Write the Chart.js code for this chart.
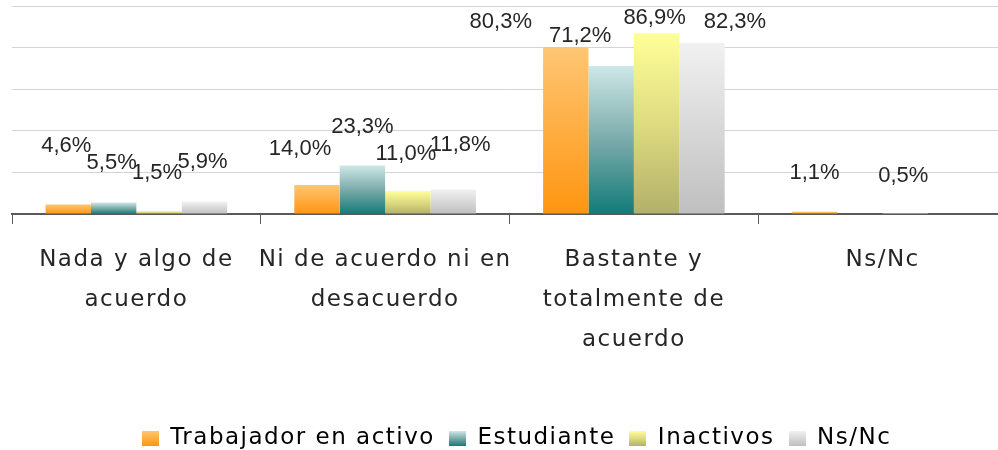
<!DOCTYPE html>
<html><head><meta charset="utf-8">
<script src="https://cdn.jsdelivr.net/npm/chart.js@4.4.1/dist/chart.umd.min.js"></script>
<style>
html,body{margin:0;padding:0;background:#fff;overflow:hidden;width:998px;height:450px}
#wrap{width:1010px;height:450px}
</style></head>
<body><div id="wrap"><canvas id="c" width="1010" height="450"></canvas></div>
<script>
// ---- data ----
const categories = [['Nada y algo de','acuerdo'],['Ni de acuerdo ni en','desacuerdo'],['Bastante y','totalmente de','acuerdo'],['Ns/Nc']];
const seriesNames = ['Trabajador en activo','Estudiante','Inactivos','Ns/Nc'];
const trabajador = [4.6, 14.0, 80.3, 1.1];
const estudiante = [5.5, 23.3, 71.2, 0];
const inactivos  = [1.5, 11.0, 86.9, 0.5];
const nsnc       = [5.9, 11.8, 82.3, 0];
const yMin = 0, yMax = 100, yStep = 20;

// ---- styles ----
const gradients = [
  ['#fec674', '#ff9510'],
  ['#cfe7e7', '#7aabaa', '#127b78'],
  ['#ffff99', '#dedb80', '#b2b06b'],
  ['#f1f1f1', '#bfbfbf']
];
// manual label nudges (px) per series, per category, as placed in the original
const labelNudgeX = [[-2,-17,-65,0],[-2,0,-31,0],[-2,-2,-2,-2],[-2,7,33,0]];
const labelNudgeY = [[-20,2,13,-1],[-2,-1,8,0],[0,1,23,1],[-2,-7,17,0]];
const FONT = '"DejaVu Sans", sans-serif';
const LABEL_FONT = '22px "Liberation Sans", Arial, sans-serif';

function addStops(g, stops){ stops.forEach((c,i)=>g.addColorStop(i/(stops.length-1), c)); return g; }
function barGradient(stops){
  return function(ctx){
    const chart = ctx.chart, ys = chart.scales.y;
    if (!ys || ctx.type !== 'data') return stops[stops.length-1];
    const y0 = ys.getPixelForValue(0), y1 = ys.getPixelForValue(ctx.raw);
    if (!isFinite(y0) || !isFinite(y1) || Math.abs(y0-y1) < 0.5) return stops[stops.length-1];
    return addStops(chart.ctx.createLinearGradient(0, y1, 0, y0), stops);
  };
}
function legendImg(stops){
  const cv = document.createElement('canvas'); cv.width = 17; cv.height = 15;
  const c = cv.getContext('2d');
  c.fillStyle = addStops(c.createLinearGradient(0,0,0,15), stops);
  c.fillRect(0,0,17,15);
  return cv;
}
const legendImgs = gradients.map(legendImg);

const seriesData = [trabajador, estudiante, inactivos, nsnc];

const spacingPlugin = {
  id: 'spacing',
  beforeUpdate(chart){ chart.ctx.letterSpacing = '1.5px'; },
  beforeDraw(chart){ chart.ctx.letterSpacing = '1.5px'; },
  afterLayout(chart){
    const lg = chart.legend; if (!lg) return;
    lg.left += 7; lg.right += 7; lg.top += 10; lg.bottom += 10;
  }
};
const labelPlugin = {
  id: 'barLabels',
  afterDatasetsDraw(chart){
    const ctx = chart.ctx;
    ctx.save();
    ctx.letterSpacing = '0px';
    ctx.font = LABEL_FONT;
    ctx.fillStyle = '#262626';
    ctx.textAlign = 'center';
    ctx.textBaseline = 'middle';
    chart.data.datasets.forEach((ds, di) => {
      const meta = chart.getDatasetMeta(di);
      meta.data.forEach((bar, i) => {
        const v = ds.data[i];
        if (!v) return;
        const txt = v.toFixed(1).replace('.', ',') + '%';
        ctx.fillText(txt, bar.x + labelNudgeX[di][i], bar.y - 38 + labelNudgeY[di][i]);
      });
    });
    ctx.restore();
  }
};

new Chart(document.getElementById('c'), {
  type: 'bar',
  data: {
    labels: categories,
    datasets: seriesNames.map((name, i) => ({
      label: name,
      data: seriesData[i],
      backgroundColor: barGradient(gradients[i]),
      borderWidth: 0,
      barPercentage: 1.0,
      categoryPercentage: 0.73
    }))
  },
  options: {
    responsive: false,
    animation: false,
    devicePixelRatio: 1,
    layout: { padding: { left: 12, right: 3, top: 6, bottom: 0 } },
    plugins: {
      tooltip: { enabled: false },
      legend: {
        position: 'bottom',
        labels: {
          font: { family: FONT, size: 23 },
          color: '#262626',
          usePointStyle: true,
          boxWidth: 17, boxHeight: 17,
          padding: 14,
          generateLabels: (chart) => chart.data.datasets.map((ds, i) => ({
            text: ds.label, pointStyle: legendImgs[i], fillStyle: gradients[i][0],
            strokeStyle: 'transparent', lineWidth: 0, hidden: false, datasetIndex: i
          }))
        }
      }
    },
    scales: {
      x: {
        grid: { display: true, drawOnChartArea: false, drawTicks: true, tickLength: 10, color: '#595959', offset: true },
        border: { display: true, color: '#595959', width: 2 },
        ticks: { font: { family: FONT, size: 23, lineHeight: 40/23 }, color: '#262626', padding: 16, maxRotation: 0, autoSkip: false },
        afterFit: (s) => { s.height = 189; }
      },
      y: {
        min: yMin, max: yMax,
        ticks: { display: false, stepSize: yStep },
        grid: { color: '#d4d4d4', drawTicks: false, lineWidth: 1 },
        border: { display: false }
      }
    }
  },
  plugins: [spacingPlugin, labelPlugin]
});
</script>
</body></html>
